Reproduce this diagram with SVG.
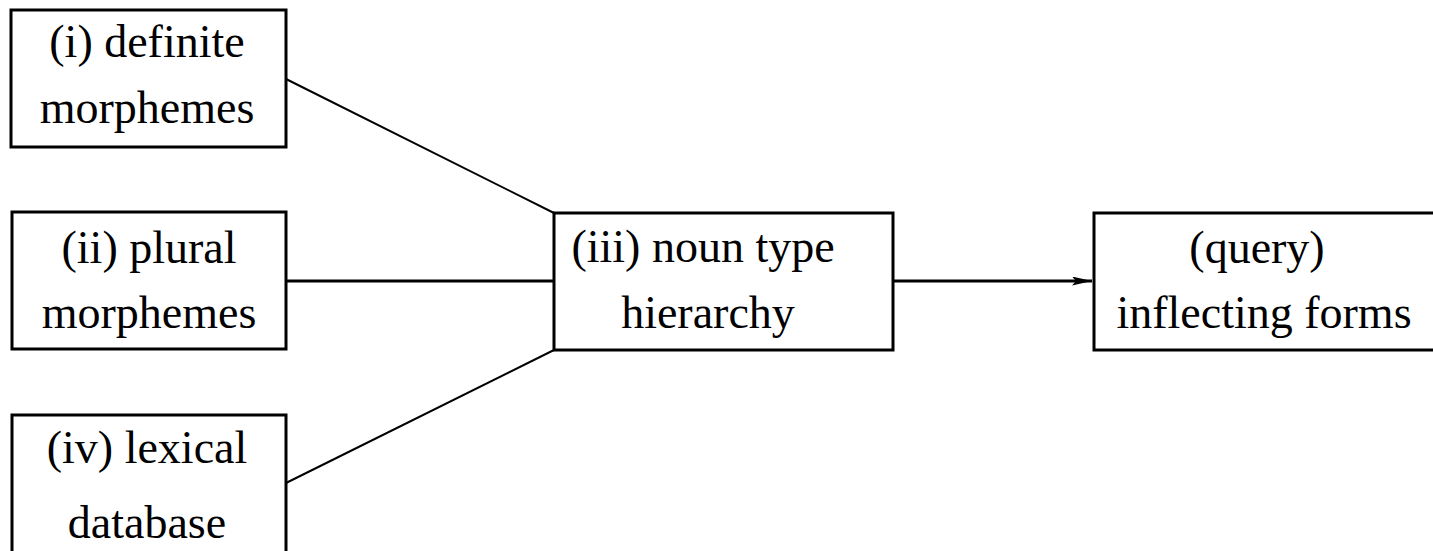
<svg xmlns="http://www.w3.org/2000/svg" width="1433" height="551" viewBox="0 0 1433 551">
<style>
.box{fill:#fff;stroke:#000;stroke-width:3}
.t{font-family:"Liberation Serif","DejaVu Serif",serif;font-size:46px;fill:#000;text-anchor:middle}
.c{stroke:#000;stroke-width:2;fill:none}
</style>
<defs>
<marker id="ah" viewBox="0 0 20 9" refX="20" refY="4.5" markerWidth="20" markerHeight="9" markerUnits="userSpaceOnUse" orient="auto">
<path d="M0,0 L20,4.5 L0,9 L4,4.5 Z" fill="#000"/>
</marker>
</defs>
<rect width="1433" height="551" fill="#fff"/>
<g id="connectors">
<line class="c" x1="286" y1="79" x2="554" y2="213"/>
<line class="c" x1="286" y1="281" x2="554" y2="281" style="stroke-width:3"/>
<line class="c" x1="286" y1="483" x2="554" y2="350"/>
<line class="c" x1="893" y1="281" x2="1092" y2="281" style="stroke-width:3" marker-end="url(#ah)"/>
</g>
<g id="n1">
<rect class="box" x="11" y="10" width="275" height="137"/>
<text class="t" x="147" y="57">(i) definite</text>
<text class="t" x="147" y="123">morphemes</text>
</g>
<g id="n2">
<rect class="box" x="12" y="212" width="274" height="137"/>
<text class="t" x="149" y="263">(ii) plural</text>
<text class="t" x="149" y="328">morphemes</text>
</g>
<g id="n4">
<rect class="box" x="12" y="415" width="274" height="160"/>
<text class="t" x="147" y="463">(iv) lexical</text>
<text class="t" x="147" y="538">database</text>
</g>
<g id="n3">
<rect class="box" x="554" y="213" width="339" height="137"/>
<text class="t" x="703" y="262">(iii) noun type</text>
<text class="t" x="708" y="328">hierarchy</text>
</g>
<g id="nq">
<rect class="box" x="1094" y="213" width="360" height="137"/>
<text class="t" x="1257" y="263">(query)</text>
<text class="t" x="1264" y="328">inflecting forms</text>
</g>
</svg>
